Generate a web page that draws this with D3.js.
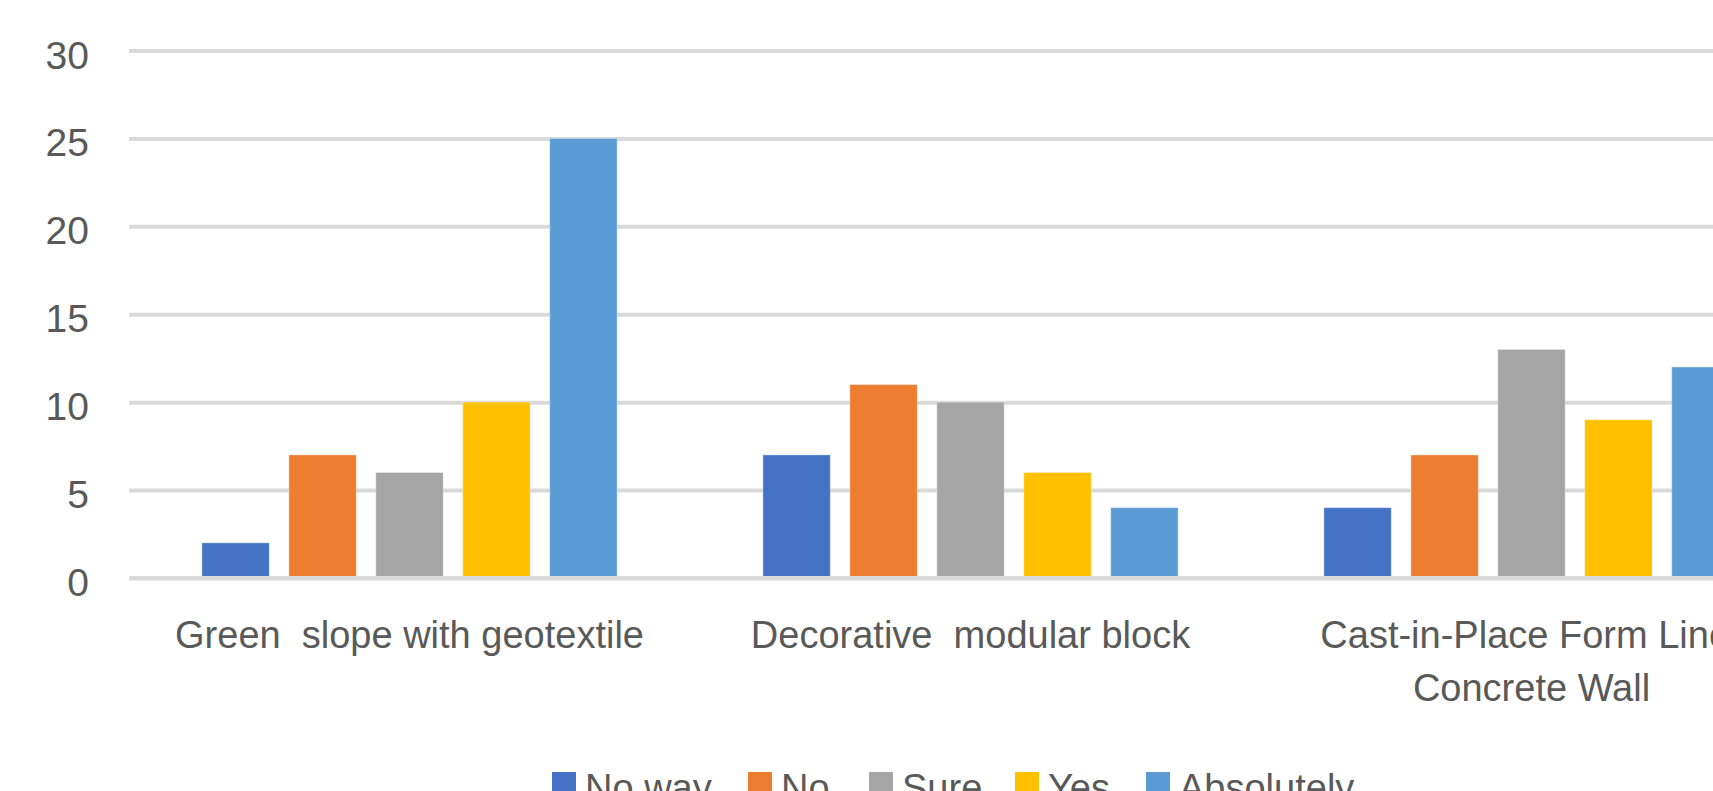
<!DOCTYPE html>
<html>
<head>
<meta charset="utf-8">
<script src="https://cdn.jsdelivr.net/npm/d3@7"></script>
<style>
  html, body { margin: 0; padding: 0; background: #ffffff; overflow: hidden; }
  svg { display: block; }
  text { font-family: "Liberation Sans", Arial, sans-serif; fill: #595959; white-space: pre; }
</style>
</head>
<body>
<svg id="chart" width="1713" height="791"></svg>
<script>
// Survey responses per retaining-wall option
const categories = ["Green  slope with geotextile", "Decorative  modular block", "Cast-in-Place Form Liner Concrete Wall"];
const seriesNames = ["No way", "No", "Sure", "Yes", "Absolutely"];
const seriesColors = ["#4472C4", "#ED7D31", "#A5A5A5", "#FFC000", "#5B9BD5"];
const noWay      = [2, 7, 4];
const no         = [7, 11, 7];
const sure       = [6, 10, 13];
const yes        = [10, 6, 9];
const absolutely = [25, 4, 12];
const yTicks = [0, 5, 10, 15, 20, 25, 30];

const seriesValues = [noWay, no, sure, yes, absolutely];
const rows = categories.map((c, i) => ({
  category: c,
  values: seriesNames.map((s, j) => ({ series: s, value: seriesValues[j][i], color: seriesColors[j] }))
}));

const svg = d3.select("#chart");
const plotLeft = 129, bandStep = 561, plotRight = plotLeft + bandStep * categories.length;
const yBase = 578, yTop = 50.5;
const fontSize = 38;

const x0 = d3.scaleBand().domain(categories).range([plotLeft, plotRight])
  .paddingInner(0.225).paddingOuter(0.1125);
const x1 = d3.scaleBand().domain(seriesNames).range([0, x0.bandwidth()])
  .paddingInner(0.225).paddingOuter(0.1125);
const y = d3.scaleLinear().domain([0, 30]).range([yBase, yTop]);

// horizontal gridlines
const grid = svg.append("g").attr("transform", `translate(${plotLeft},0)`)
  .call(d3.axisRight(y).tickValues(yTicks).tickSize(plotRight - plotLeft).tickFormat(""));
grid.select(".domain").remove();
grid.selectAll(".tick line").attr("stroke", "#d9d9d9").attr("stroke-width", 4);

// value axis labels
const yAxis = svg.append("g").attr("transform", "translate(89,0)")
  .call(d3.axisLeft(y).tickValues(yTicks).tickSize(0).tickPadding(0));
yAxis.select(".domain").remove();
yAxis.selectAll(".tick text")
  .attr("font-size", 39).attr("font-family", null).attr("fill", "#595959").attr("dy", "0.45em");

// bars
const groups = svg.append("g").selectAll("g").data(rows).join("g")
  .attr("transform", d => `translate(${x0(d.category)},0)`);
groups.selectAll("rect").data(d => d.values).join("rect")
  .attr("x", d => x1(d.series))
  .attr("width", x1.bandwidth())
  .attr("y", d => y(d.value))
  .attr("height", d => y(0) - y(d.value))
  .attr("fill", d => d.color)
  .attr("stroke", "#ffffff").attr("stroke-opacity", 0.35).attr("stroke-width", 1);

// baseline over the bars
svg.append("line")
  .attr("x1", plotLeft).attr("x2", plotRight)
  .attr("y1", y(0)).attr("y2", y(0))
  .attr("stroke", "#d9d9d9").attr("stroke-width", 4);

// category axis labels, wrapped to the band width
const xAxis = svg.append("g").attr("transform", `translate(0,${yBase})`)
  .call(d3.axisBottom(x0).tickSize(0).tickPadding(0));
xAxis.select(".domain").remove();
xAxis.selectAll(".tick text").each(function(label) {
  const t = d3.select(this)
    .attr("font-size", fontSize).attr("font-family", null).attr("fill", "#595959")
    .attr("dy", null).attr("y", 0).text(null);
  const maxWidth = x0.bandwidth() + 60;
  const words = label.split(" ");
  const lines = [];
  let line = [];
  const tspan = t.append("tspan").attr("x", 0);
  words.forEach(w => {
    line.push(w);
    tspan.text(line.join(" "));
    if (tspan.node().getComputedTextLength() > maxWidth && line.length > 1) {
      line.pop();
      lines.push(line.join(" "));
      line = [w];
      tspan.text(w);
    }
  });
  lines.push(line.join(" "));
  t.text(null);
  lines.forEach((l, i) => {
    t.append("tspan").attr("x", 0).attr("y", 70 + i * 53).text(l);
  });
});

// legend below the plot
const legendX = [552, 748, 869, 1015, 1146];
const legend = svg.append("g");
seriesNames.forEach((s, i) => {
  const g = legend.append("g").attr("transform", `translate(${legendX[i]},0)`);
  g.append("rect").attr("x", 0).attr("y", 772).attr("width", 24).attr("height", 24)
    .attr("fill", seriesColors[i]);
  g.append("text").attr("x", 33).attr("y", 801)
    .attr("font-size", fontSize).text(s);
});
</script>
</body>
</html>
